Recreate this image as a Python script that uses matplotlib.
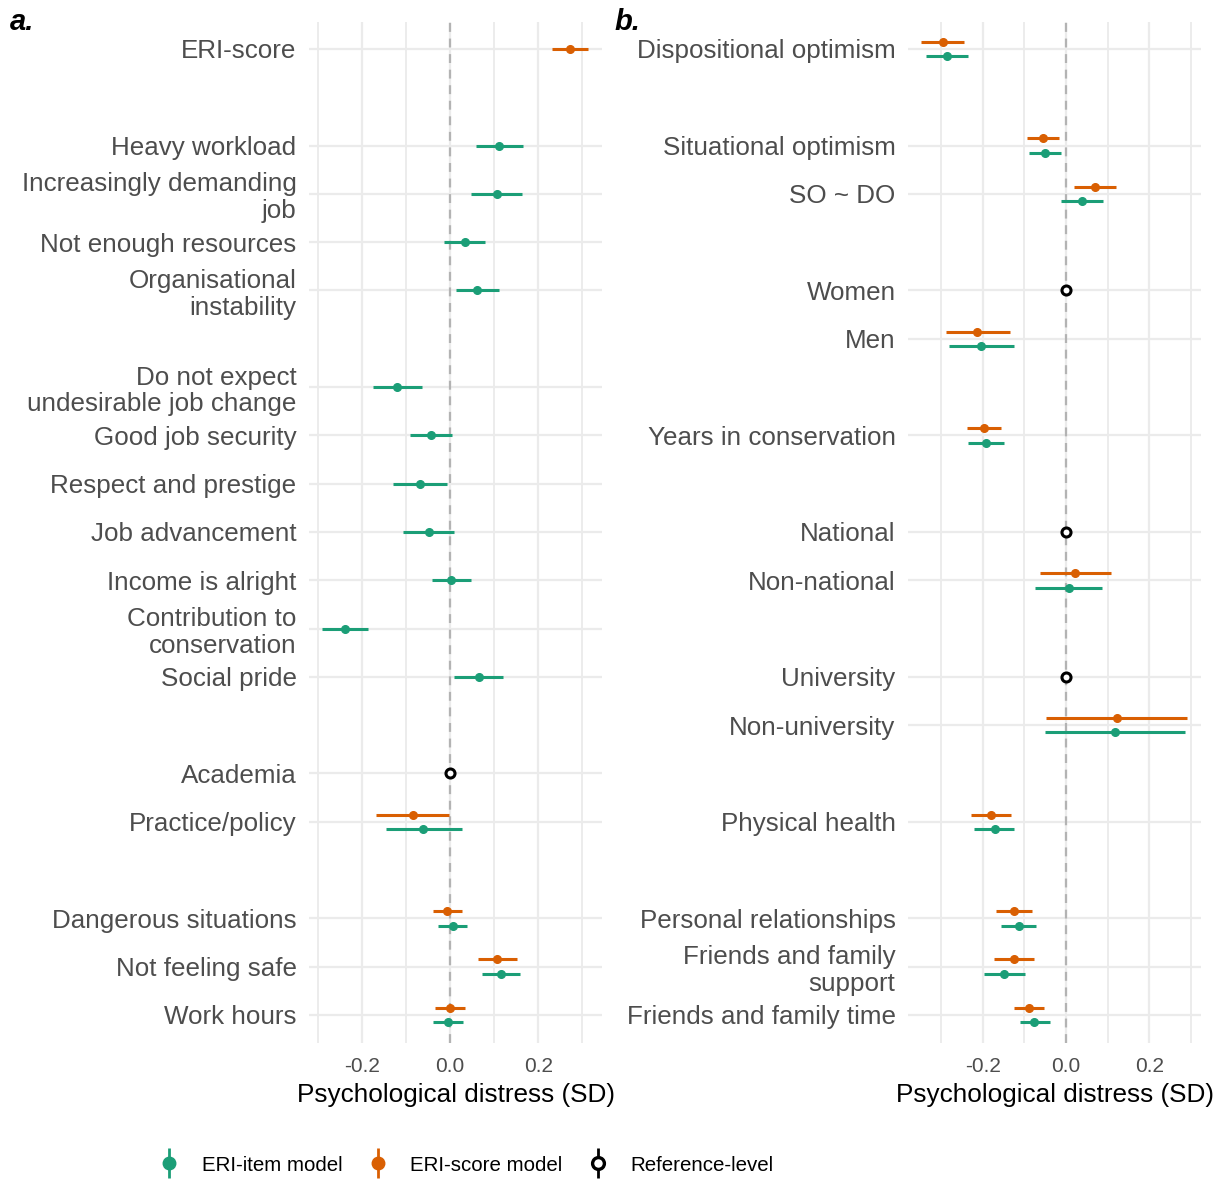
import numpy as np
import matplotlib
matplotlib.use('Agg')
import matplotlib.pyplot as plt
from matplotlib.lines import Line2D
from matplotlib.legend_handler import HandlerTuple

plt.rcParams['font.family'] = ['Liberation Sans', 'DejaVu Sans']

nan = np.nan

# panel a: rows (None = blank gap row)
a_labels = ['ERI-score', None, 'Heavy workload', 'Increasingly demanding\njob',
            'Not enough resources', 'Organisational\ninstability', None,
            'Do not expect\nundesirable job change', 'Good job security',
            'Respect and prestige', 'Job advancement', 'Income is alright',
            'Contribution to\nconservation', 'Social pride', None,
            'Academia', 'Practice/policy', None,
            'Dangerous situations', 'Not feeling safe', 'Work hours']
a_item_est = [nan, nan, 0.112, 0.106, 0.033, 0.061, nan, -0.120, -0.043, -0.068, -0.048,
              0.002, -0.239, 0.066, nan, nan, -0.061, nan, 0.006, 0.115, -0.005]
a_item_lo = [nan, nan, 0.059, 0.048, -0.013, 0.014, nan, -0.174, -0.092, -0.129, -0.106,
             -0.041, -0.290, 0.009, nan, nan, -0.145, nan, -0.027, 0.073, -0.039]
a_item_hi = [nan, nan, 0.165, 0.164, 0.080, 0.110, nan, -0.064, 0.005, -0.006, 0.010,
             0.047, -0.186, 0.121, nan, nan, 0.027, nan, 0.039, 0.159, 0.030]
a_score_est = [0.273, nan, nan, nan, nan, nan, nan, nan, nan, nan, nan,
               nan, nan, nan, nan, nan, -0.083, nan, -0.007, 0.106, 0.000]
a_score_lo = [0.232, nan, nan, nan, nan, nan, nan, nan, nan, nan, nan,
              nan, nan, nan, nan, nan, -0.169, nan, -0.038, 0.063, -0.034]
a_score_hi = [0.314, nan, nan, nan, nan, nan, nan, nan, nan, nan, nan,
              nan, nan, nan, nan, nan, -0.002, nan, 0.027, 0.152, 0.033]
a_reference = ['Academia']

# panel b
b_labels = ['Dispositional optimism', None, 'Situational optimism', 'SO ~ DO', None,
            'Women', 'Men', None, 'Years in conservation', None,
            'National', 'Non-national', None, 'University', 'Non-university', None,
            'Physical health', None, 'Personal relationships',
            'Friends and family\nsupport', 'Friends and family time']
b_item_est = [-0.286, nan, -0.051, 0.038, nan, nan, -0.203, nan, -0.192, nan,
              nan, 0.006, nan, nan, 0.118, nan, -0.171, nan, -0.114, -0.148, -0.076]
b_item_lo = [-0.337, nan, -0.088, -0.011, nan, nan, -0.280, nan, -0.234, nan,
             nan, -0.075, nan, nan, -0.050, nan, -0.220, nan, -0.156, -0.196, -0.111]
b_item_hi = [-0.234, nan, -0.013, 0.088, nan, nan, -0.125, nan, -0.149, nan,
             nan, 0.086, nan, nan, 0.285, nan, -0.124, nan, -0.071, -0.099, -0.039]
b_score_est = [-0.296, nan, -0.056, 0.070, nan, nan, -0.213, nan, -0.197, nan,
               nan, 0.022, nan, nan, 0.122, nan, -0.181, nan, -0.125, -0.126, -0.090]
b_score_lo = [-0.347, nan, -0.094, 0.018, nan, nan, -0.289, nan, -0.238, nan,
              nan, -0.062, nan, nan, -0.049, nan, -0.229, nan, -0.168, -0.173, -0.126]
b_score_hi = [-0.244, nan, -0.017, 0.121, nan, nan, -0.134, nan, -0.157, nan,
              nan, 0.107, nan, nan, 0.291, nan, -0.133, nan, -0.082, -0.077, -0.053]
b_reference = ['Women', 'National', 'University']

green = '#1b9e77'
orange = '#d95f02'
grid_col = '#ebebeb'


def forest(ax, labels, item, score, refs, xlim):
    item_est, item_lo, item_hi = [np.array(v, dtype=float) for v in item]
    score_est, score_lo, score_hi = [np.array(v, dtype=float) for v in score]
    rows = np.arange(len(labels))
    both = ~np.isnan(item_est) & ~np.isnan(score_est)
    dodge = 0.15
    y_item = rows + np.where(both, dodge, 0)
    y_score = rows - np.where(both, dodge, 0)

    ax.hlines(y_score, score_lo, score_hi, color=orange, lw=2.2, zorder=3)
    ax.plot(score_est, y_score, 'o', color=orange, ms=5.5, zorder=4)
    ax.hlines(y_item, item_lo, item_hi, color=green, lw=2.2, zorder=3)
    ax.plot(item_est, y_item, 'o', color=green, ms=5.5, zorder=4)

    ref_rows = [labels.index(r) for r in refs]
    ax.plot(np.zeros(len(ref_rows)), ref_rows, 'o', ms=6.5, mfc='white',
            mec='black', mew=2.2, zorder=5)

    ax.axvline(0, color='#b3b3b3', ls=(0, (4, 3)), lw=1.6, zorder=2)

    tick_rows = [i for i, l in enumerate(labels) if l is not None]
    ax.set_yticks(tick_rows)
    ax.set_yticklabels([labels[i] for i in tick_rows], fontsize=18.7,
                       color='#4d4d4d', linespacing=1.15)
    ax.set_ylim(len(labels) - 0.42, -0.56)
    ax.set_xlim(*xlim)
    ax.set_xticks([-0.2, 0.0, 0.2])
    ax.set_xticklabels(['-0.2', '0.0', '0.2'], fontsize=15, color='#4d4d4d')
    ax.set_xticks([-0.3, -0.1, 0.1, 0.3], minor=True)
    ax.tick_params(axis='both', which='both', length=0)
    ax.tick_params(axis='y', pad=9)
    ax.tick_params(axis='x', pad=10)
    ax.grid(True, which='major', color=grid_col, lw=1.6, zorder=0)
    ax.grid(True, which='minor', axis='x', color=grid_col, lw=1.3, zorder=0)
    ax.set_axisbelow(True)
    for s in ax.spines.values():
        s.set_visible(False)
    ax.set_xlabel('Psychological distress (SD)', fontsize=18.8, labelpad=5)


fig = plt.figure(figsize=(12.21, 11.80), dpi=100)
ax_a = fig.add_axes([0.2531, 0.1161, 0.240, 0.8653])
ax_b = fig.add_axes([0.7437, 0.1161, 0.240, 0.8653])

forest(ax_a, a_labels, (a_item_est, a_item_lo, a_item_hi),
       (a_score_est, a_score_lo, a_score_hi), a_reference, (-0.32, 0.345))
forest(ax_b, b_labels, (b_item_est, b_item_lo, b_item_hi),
       (b_score_est, b_score_lo, b_score_hi), b_reference, (-0.379, 0.324))

fig.text(0.008, 0.981, 'a.', fontsize=21, fontweight='bold', style='italic', va='center')
fig.text(0.503, 0.981, 'b.', fontsize=21, fontweight='bold', style='italic', va='center')

# legend: point with a vertical range line
def key(col, open_marker=False):
    bar = Line2D([], [], marker='|', ms=22, mew=2, color=col, ls='none')
    if open_marker:
        dot = Line2D([], [], marker='o', ms=8.5, mfc='white', mec=col, mew=2.4, ls='none')
    else:
        dot = Line2D([], [], marker='o', ms=9, color=col, ls='none')
    return (bar, dot)

handles = [key(green), key(orange), key('black', True)]
fig.legend(handles, ['ERI-item model', 'ERI-score model', 'Reference-level'],
           handler_map={tuple: HandlerTuple(ndivide=1)}, loc='center',
           bbox_to_anchor=(0.381, 0.0127), ncol=3, frameon=False, fontsize=14.8,
           handlelength=1.2, handletextpad=1.0, columnspacing=1.1)

fig.savefig('out.png', dpi=100)
